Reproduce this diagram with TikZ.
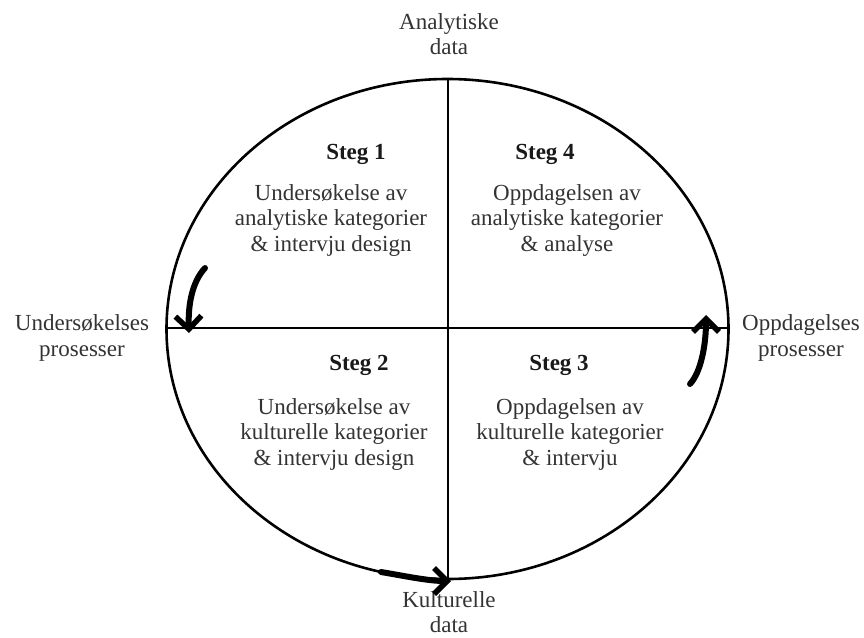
\documentclass[tikz,border=0pt]{standalone}
\usepackage{fontspec}
\setmainfont{Liberation Serif}
\usetikzlibrary{arrows.meta}
\begin{document}
\begin{tikzpicture}[x=1pt,y=-1pt,
  lbl/.style={align=center,font=\fontsize{23}{25.5}\selectfont,text=black!80,inner sep=0pt},
  ttl/.style={font=\fontsize{23}{25.5}\selectfont\bfseries,text=black!90,inner sep=0pt},
  frame/.style={line width=2.6pt,black},
  turn/.style={line width=6pt,line cap=round,-{Straight Barb[length=13pt,width=26pt,line width=5.5pt]}}]
\useasboundingbox (0,0) rectangle (864,637);
% circle with its two axes
\draw[frame] (447.5,329) ellipse [x radius=281, y radius=250];
\coordinate (top) at (448,79);
\coordinate (bot) at (448,583);
\coordinate (lft) at (167,328);
\coordinate (rgt) at (729,328);
\draw[frame] (top) -- (bot);
\draw[frame] (lft) -- (rgt);
% axis labels
\node[lbl] (analytisk) at (449,34) {Analytiske\\data};
\node[lbl] (kulturell) at (449,612) {Kulturelle\\data};
\node[lbl] (unders) at (82,338) {Undersøkelses\\prosesser};
\node[lbl] (oppd) at (801,338) {Oppdagelses\\prosesser};
% quadrant texts
\node[ttl] (s1) at (356,154) {Steg 1};
\node[lbl] (t1) at (331,220) {Undersøkelse av\\analytiske kategorier\\\& intervju design};
\node[ttl] (s4) at (545,154) {Steg 4};
\node[lbl] (t4) at (567,220) {Oppdagelsen av\\analytiske kategorier\\\& analyse};
\node[ttl] (s2) at (359,365) {Steg 2};
\node[lbl] (t2) at (334,434) {Undersøkelse av\\kulturelle kategorier\\\& intervju design};
\node[ttl] (s3) at (559,365) {Steg 3};
\node[lbl] (t3) at (570,434) {Oppdagelsen av\\kulturelle kategorier\\\& intervju};
% direction arrows
\coordinate (a1s) at (205,268);
\coordinate (a1e) at (189,333);
\draw[turn] (a1s) .. controls (192,282) and (188,305) .. (a1e);
\coordinate (a2s) at (690,384);
\coordinate (a2e) at (706,315);
\draw[turn] (a2s) .. controls (701,372) and (706,345) .. (a2e);
\coordinate (a3s) at (381,572);
\coordinate (a3e) at (451,581);
\draw[turn] (a3s) .. controls (405,576) and (428,581) .. (a3e);
\end{tikzpicture}
\end{document}
